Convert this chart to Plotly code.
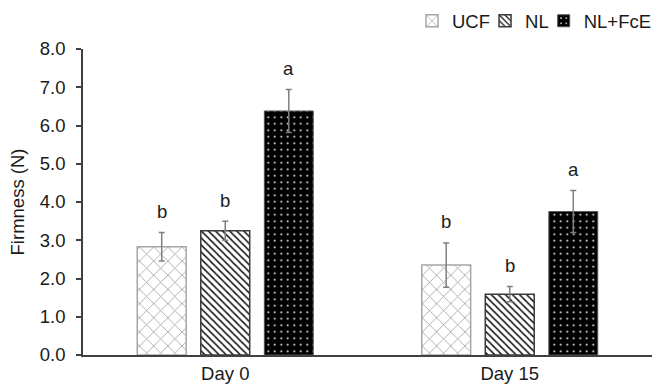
import plotly.graph_objects as go

# Firmness of samples measured on two days
days = ["Day 0", "Day 15"]
treatments = ["UCF", "NL", "NL+FcE"]
firmness = {
    "UCF": [2.83, 2.35],
    "NL": [3.25, 1.59],
    "NL+FcE": [6.38, 3.75],
}
std_err = {
    "UCF": [0.37, 0.58],
    "NL": [0.25, 0.20],
    "NL+FcE": [0.56, 0.55],
}
letters = {
    "UCF": ["b", "b"],
    "NL": ["b", "b"],
    "NL+FcE": ["a", "a"],
}
y_ticks = [0, 1, 2, 3, 4, 5, 6, 7, 8]

FS = 18.5
TXT = "#1a1a1a"

styles = {
    "UCF": dict(
        line=dict(color="#a6a6a6", width=1.5),
        pattern=dict(shape="x", fgcolor="#9a9a9a", bgcolor="white", size=10, solidity=0.15, fillmode="replace"),
    ),
    "NL": dict(
        line=dict(color="#3a3a3a", width=1.5),
        pattern=dict(shape="\\", fgcolor="#111111", bgcolor="white", size=5, solidity=0.3, fillmode="replace"),
    ),
    "NL+FcE": dict(
        line=dict(color="#555555", width=1),
        pattern=dict(shape=".", fgcolor="white", bgcolor="black", size=6.5, solidity=0.07, fillmode="replace"),
    ),
}

fig = go.Figure()
for t in treatments:
    fig.add_trace(go.Bar(
        name=t,
        x=days,
        y=firmness[t],
        marker=dict(color="black", **styles[t]),
        error_y=dict(type="data", array=std_err[t], visible=True,
                     color="#7f7f7f", thickness=1.5, width=3),
        textposition="none",
    ))

# Significance letters above each error bar
offsets = {"UCF": -1, "NL": 0, "NL+FcE": 1}
for t in treatments:
    for i, d in enumerate(days):
        fig.add_annotation(
            x=i, xref="x", y=firmness[t][i] + std_err[t][i], yref="y",
            xshift=offsets[t] * 63.5, yshift=21,
            text=letters[t][i], showarrow=False,
            font=dict(size=FS, color=TXT), yanchor="middle",
        )

fig.update_layout(
    width=657, height=386,
    margin=dict(l=83, r=5, t=49, b=31, autoexpand=False),
    paper_bgcolor="white", plot_bgcolor="white",
    font=dict(family="Liberation Sans, Arial, sans-serif", color=TXT),
    barmode="group", bargap=0.33, bargroupgap=0.23,
    showlegend=True,
    legend=dict(orientation="h", x=1.0, xanchor="right", xref="container",
                y=0.945, yanchor="middle", yref="container",
                font=dict(size=FS, color=TXT), itemwidth=30,
                traceorder="normal", bgcolor="rgba(0,0,0,0)", indentation=-10),
    xaxis=dict(
        showline=True, linecolor="#404040", linewidth=1.5,
        ticks="", showgrid=False, range=[-0.5, 1.5],
        ticklabelstandoff=1,
        tickfont=dict(size=FS, color=TXT),
    ),
    yaxis=dict(
        range=[0, 8], tickvals=y_ticks,
        ticktext=[f"{v:.1f}" for v in y_ticks],
        showline=True, linecolor="#404040", linewidth=1.5,
        ticks="outside", ticklen=5, tickcolor="#404040", tickwidth=1.5,
        ticklabelstandoff=7,
        showgrid=False, zeroline=False,
        tickfont=dict(size=FS, color=TXT),
        title=dict(text="Firmness (N)", font=dict(size=FS, color=TXT), standoff=10),
    ),
)

fig.write_html("out.html")
